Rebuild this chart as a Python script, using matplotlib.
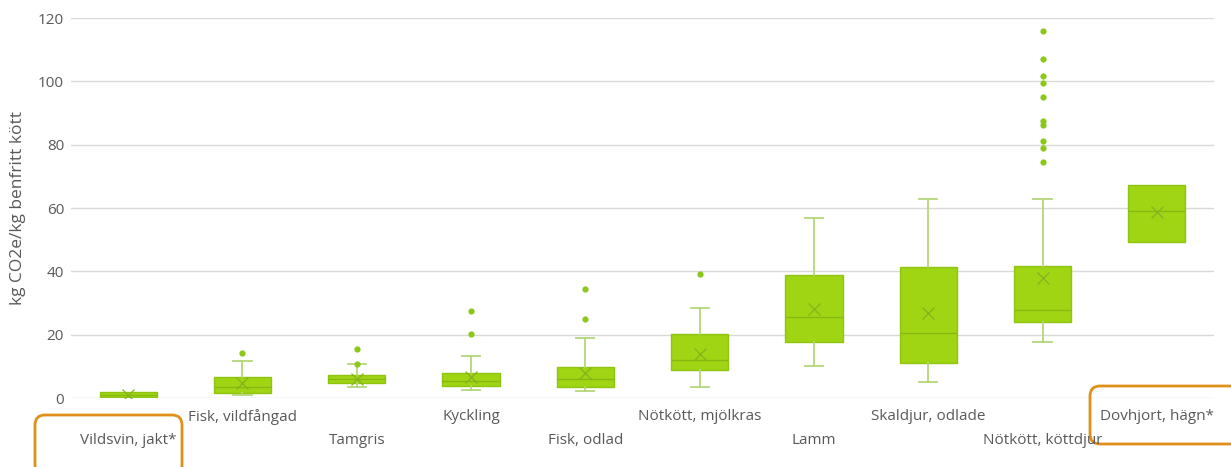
import matplotlib
matplotlib.use("Agg")
import matplotlib.pyplot as plt
from matplotlib.patches import FancyBboxPatch
from matplotlib.transforms import IdentityTransform

plt.rcParams['font.family'] = ['Open Sans', 'DejaVu Sans']

categories = ["Vildsvin, jakt*", "Fisk, vildfångad", "Tamgris", "Kyckling", "Fisk, odlad",
              "Nötkött, mjölkras", "Lamm", "Skaldjur, odlade", "Nötkött, köttdjur", "Dovhjort, hägn*"]
q1 = [0.3, 1.7, 4.6, 3.8, 3.6, 8.9, 17.8, 11.2, 24.0, 49.3]
median = [0.9, 3.6, 5.9, 5.5, 6.0, 12.0, 25.7, 20.6, 27.9, 59.2]
q3 = [1.8, 6.7, 7.2, 8.0, 9.9, 20.1, 38.7, 41.4, 41.8, 67.3]
whisker_low = [0.3, 0.95, 3.6, 2.5, 2.1, 3.5, 10.2, 5.2, 17.7, 49.3]
whisker_high = [1.8, 11.8, 10.6, 13.4, 18.8, 28.3, 56.7, 62.8, 62.9, 67.3]
mean = [1.0, 4.6, 6.0, 6.7, 7.8, 13.9, 28.0, 26.7, 37.8, 58.6]
outliers = [[], [14.3], [10.6, 15.5], [20.2, 27.4], [24.8, 34.5], [39.2], [], [],
            [74.4, 78.9, 81.1, 86.2, 87.5, 95.1, 99.5, 101.8, 106.9, 115.9], []]
yticks = [0, 20, 40, 60, 80, 100, 120]
ylabel = "kg CO2e/kg benfritt kött"

fill = "#a0d514"
edge = "#8fc410"
dark = "#86b812"
whisk = "#b3d77a"
textc = "#595959"

fig = plt.figure(figsize=(12.31, 4.67), dpi=100)
ax = fig.add_axes([71/1231, 1-398/467, (1214-71)/1231, 380/467])

stats = []
for i, c in enumerate(categories):
    stats.append(dict(label=c, q1=q1[i], med=median[i], q3=q3[i],
                      whislo=whisker_low[i], whishi=whisker_high[i],
                      mean=mean[i], fliers=outliers[i]))

pos = list(range(len(categories)))
bp = ax.bxp(stats, positions=pos, widths=0.5, patch_artist=True, showmeans=True,
            capwidths=0.16,
            boxprops=dict(facecolor=fill, edgecolor=edge, linewidth=1.0),
            medianprops=dict(color=dark, linewidth=1.0),
            whiskerprops=dict(color=whisk, linewidth=1.3),
            capprops=dict(color=whisk, linewidth=1.3),
            meanprops=dict(marker='x', markeredgecolor="#86b020", markersize=8, markeredgewidth=0.9),
            flierprops=dict(marker='o', markerfacecolor="#8cc81a", markeredgecolor="none", markersize=4.5))
for i in range(len(categories)):
    if whisker_low[i] == q1[i] and whisker_high[i] == q3[i]:
        for k in (2*i, 2*i+1):
            bp['caps'][k].set_visible(False)
            bp['whiskers'][k].set_visible(False)

ax.set_xlim(-0.5, len(categories) - 0.5)
ax.set_ylim(0, 120)
ax.set_yticks(yticks)
ax.set_yticklabels([str(t) for t in yticks], color=textc, fontsize=11)
ax.tick_params(axis='y', length=0, pad=5)
ax.set_xticks(pos)
ax.set_xticklabels([])
ax.tick_params(axis='x', length=0)
ax.grid(axis='y', color="#d9d9d9", linewidth=1)
ax.set_axisbelow(True)
for s in ax.spines.values():
    s.set_visible(False)
ax.set_ylabel(ylabel, color=textc, fontsize=12.5)
ax.yaxis.set_label_coords((26 - 71) / 1143, 0.5)

for i, c in enumerate(categories):
    ytext = 417 if i % 2 == 1 else 440
    fig.text((71 + (i + 0.5) * 114.3) / 1231, 1 - ytext / 467, c, ha='center', va='center',
             color=textc, fontsize=11)

for (x, y, w, h) in [(35, -8, 147, 60), (1090, 23, 150, 58)]:
    p = FancyBboxPatch((x, y), w, h, boxstyle="round,pad=0,rounding_size=10",
                       transform=IdentityTransform(), facecolor='none',
                       edgecolor="#e0901a", linewidth=2)
    fig.add_artist(p)

fig.savefig("out.png", dpi=100)
